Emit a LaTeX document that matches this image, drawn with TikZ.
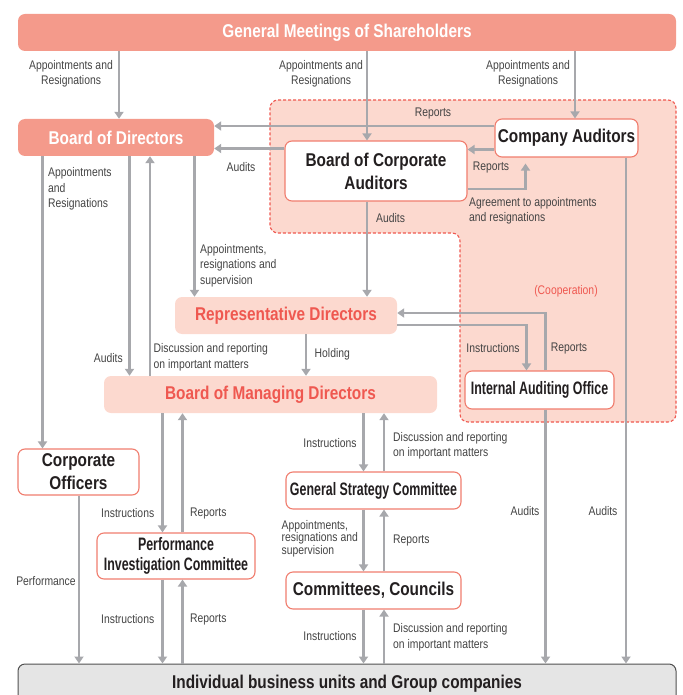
\documentclass[tikz,border=0pt]{standalone}
\usepackage{fontspec}
\setmainfont{Liberation Sans}[FakeStretch=0.83]
\newfontfamily\narrowfont{Liberation Sans}[FakeStretch=0.69]
\usetikzlibrary{arrows.meta}

\definecolor{salmon}{RGB}{244,154,139}
\definecolor{blush}{RGB}{252,217,207}
\definecolor{rose}{RGB}{239,88,80}
\definecolor{edgered}{RGB}{240,125,110}
\definecolor{arrowgray}{RGB}{167,168,172}
\definecolor{textgray}{RGB}{68,68,68}
\definecolor{ink}{RGB}{35,31,32}
\definecolor{barfill}{RGB}{229,229,229}
\definecolor{barline}{RGB}{80,80,80}

\begin{document}
\begin{tikzpicture}[x=1pt, y=-1pt,
	boxbase/.style = {rectangle, rounded corners=7pt, inner sep=0pt, align=center, text=ink, font=\bfseries\fontsize{18.5}{23}\selectfont},
	leadbox/.style = {boxbase, fill=salmon, text=white},
	softbox/.style = {boxbase, fill=blush, text=rose},
	whitebox/.style = {boxbase, draw=edgered, line width=1.1pt, fill=white},
	slimbox/.style = {whitebox, font=\narrowfont\bfseries\fontsize{18}{20}\selectfont},
	lbl/.style = {inner sep=0pt, align=left, text=textgray, font=\fontsize{12.5}{15.5}\selectfont},
	flow/.style = {draw=arrowgray, line width=2.8pt, -{Triangle[width=9pt,length=7pt]}},
	zone/.style = {fill=blush, draw=rose, line width=1.1pt, dash pattern=on 3pt off 2pt, rounded corners=8pt}]
	\useasboundingbox (0,0) rectangle (682,695);
	\clip (0,0) rectangle (682,695);

	% auditing area behind the boxes
	\draw[zone] (270,100) -- (676,100) -- (676,422) -- (460,422) -- (460,233) -- (270,233) -- cycle;

	\node[leadbox, minimum width=658pt, minimum height=37pt] (gms) at (347,32.5) {General Meetings of Shareholders};
	\node[leadbox, minimum width=196pt, minimum height=37pt] (bod) at (116,137.5) {Board of Directors};
	\node[whitebox, minimum width=143pt, minimum height=38pt] (ca) at (566.5,138) {Company Auditors};
	\node[whitebox, minimum width=182pt, minimum height=60pt] (bca) at (376,171) {Board of Corporate\\Auditors};
	\node[softbox, minimum width=222pt, minimum height=37pt] (rd) at (286,315.5) {Representative Directors};
	\node[softbox, minimum width=333pt, minimum height=37pt] (bmd) at (270.5,394.5) {Board of Managing Directors};
	\node[slimbox, minimum width=149pt, minimum height=38pt] (iao) at (539.5,390) {Internal Auditing Office};
	\node[whitebox, minimum width=121pt, minimum height=46pt] (co) at (78.5,472) {Corporate\\Officers};
	\node[slimbox, minimum width=158pt, minimum height=46pt] (pic) at (176,556) {Performance\\Investigation Committee};
	\node[slimbox, minimum width=175pt, minimum height=37pt] (gsc) at (373.5,490.5) {General Strategy Committee};
	\node[whitebox, minimum width=175pt, minimum height=37pt] (cc) at (373.5,590.5) {Committees, Councils};
	\node[boxbase, draw=barline, line width=1pt, fill=barfill, minimum width=658pt, minimum height=40pt] (biz) at (347,684) {Individual business units and Group companies};

	% columns and rows of the connectors
	\coordinate (cA) at (42.5,0);
	\coordinate (cB) at (79,0);
	\coordinate (cC) at (119,0);
	\coordinate (cD) at (129.5,0);
	\coordinate (cE) at (150,0);
	\coordinate (cF) at (162.5,0);
	\coordinate (cG) at (182.5,0);
	\coordinate (cH) at (194.5,0);
	\coordinate (cI) at (306,0);
	\coordinate (cJ) at (363.5,0);
	\coordinate (cK) at (384,0);
	\coordinate (cL) at (367,0);
	\coordinate (cM) at (526.5,0);
	\coordinate (cN) at (545.5,0);
	\coordinate (cP) at (575,0);
	\coordinate (cQ) at (626,0);
	\coordinate (cR) at (525.5,0);
	\coordinate (r1) at (0,126);
	\coordinate (r2) at (0,148.5);
	\coordinate (r3) at (0,149.5);
	\coordinate (r4) at (0,189);
	\coordinate (r5) at (0,313);
	\coordinate (r6) at (0,325);

	\draw[flow] (gms.south -| cC) -- (bod.north -| cC);
	\draw[flow] (gms.south -| cL) -- (bca.north -| cL);
	\draw[flow] (gms.south -| cP) -- (ca.north -| cP);
	\draw[flow] (ca.west |- r1) -- (bod.east |- r1);
	\draw[flow] (bca.west |- r2) -- (bod.east |- r2);
	\draw[flow] (ca.west |- r3) -- (bca.east |- r3);
	\draw[flow, shorten >=6pt] (bca.east |- r4) -| (ca.south -| cR);
	\draw[flow] (bca.south -| cL) -- (rd.north -| cL);
	\draw[flow] (bod.south -| cA) -- (co.north -| cA);
	\draw[flow] (bod.south -| cD) -- (bmd.north -| cD);
	\draw[flow] (bmd.north -| cE) -- (bod.south -| cE);
	\draw[flow] (bod.south -| cH) -- (rd.north -| cH);
	\draw[flow] (rd.south -| cI) -- (bmd.north -| cI);
	\draw[flow] (iao.north -| cN) |- (rd.east |- r5);
	\draw[flow] (rd.east |- r6) -| (iao.north -| cM);
	\draw[flow] (ca.south -| cQ) -- (biz.north -| cQ);
	\draw[flow] (iao.south -| cN) -- (biz.north -| cN);
	\draw[flow] (bmd.south -| cJ) -- (gsc.north -| cJ);
	\draw[flow] (gsc.north -| cK) -- (bmd.south -| cK);
	\draw[flow] (gsc.south -| cJ) -- (cc.north -| cJ);
	\draw[flow] (cc.north -| cK) -- (gsc.south -| cK);
	\draw[flow] (cc.south -| cJ) -- (biz.north -| cJ);
	\draw[flow] (biz.north -| cK) -- (cc.south -| cK);
	\draw[flow] (bmd.south -| cF) -- (pic.north -| cF);
	\draw[flow] (pic.north -| cG) -- (bmd.south -| cG);
	\draw[flow] (pic.south -| cF) -- (biz.north -| cF);
	\draw[flow] (biz.north -| cG) -- (pic.south -| cG);
	\draw[flow] (co.south -| cB) -- (biz.north -| cB);

	\node[lbl, align=center] (l1) at (71,74) {Appointments and\\Resignations};
	\node[lbl, align=center] (l2) at (321,74) {Appointments and\\Resignations};
	\node[lbl, align=center] (l3) at (528,74) {Appointments and\\Resignations};
	\node[lbl] (l4) at (433,113) {Reports};
	\node[lbl] (l5) at (241,167.5) {Audits};
	\node[lbl] (l6) at (491,167) {Reports};
	\node[lbl, anchor=west] (l7) at (469,211) {Agreement to appointments\\and resignations};
	\node[lbl, anchor=west] (l8) at (376,218) {Audits};
	\node[lbl, anchor=west] (l9) at (48,189) {Appointments\\and\\Resignations};
	\node[lbl, anchor=west] (l10) at (200,265.5) {Appointments,\\resignations and\\supervision};
	\node[lbl, anchor=east] (l11) at (123,358) {Audits};
	\node[lbl, anchor=west] (l12) at (153.5,357.5) {Discussion and reporting\\on important matters};
	\node[lbl, anchor=west] (l13) at (314.5,354) {Holding};
	\node[lbl, text=rose] (l14) at (566,291) {(Cooperation)};
	\node[lbl] (l15) at (493,348) {Instructions};
	\node[lbl] (l16) at (569,348) {Reports};
	\node[lbl] (l17) at (330,443) {Instructions};
	\node[lbl, anchor=west] (l18) at (393,446) {Discussion and reporting\\on important matters};
	\node[lbl] (l19) at (525,511) {Audits};
	\node[lbl] (l20) at (603,511) {Audits};
	\node[lbl, anchor=west, font=\fontsize{12.5}{12.5}\selectfont] (l21) at (281.5,538.5) {Appointments,\\resignations and\\supervision};
	\node[lbl, anchor=west] (l22) at (393,540) {Reports};
	\node[lbl] (l23) at (330,636) {Instructions};
	\node[lbl, anchor=west] (l24) at (393,637.5) {Discussion and reporting\\on important matters};
	\node[lbl] (l25) at (127.7,513) {Instructions};
	\node[lbl, anchor=west] (l26) at (190,513) {Reports};
	\node[lbl] (l27) at (127.7,619) {Instructions};
	\node[lbl, anchor=west] (l28) at (190,619) {Reports};
	\node[lbl] (l29) at (46,581) {Performance};
\end{tikzpicture}
\end{document}
